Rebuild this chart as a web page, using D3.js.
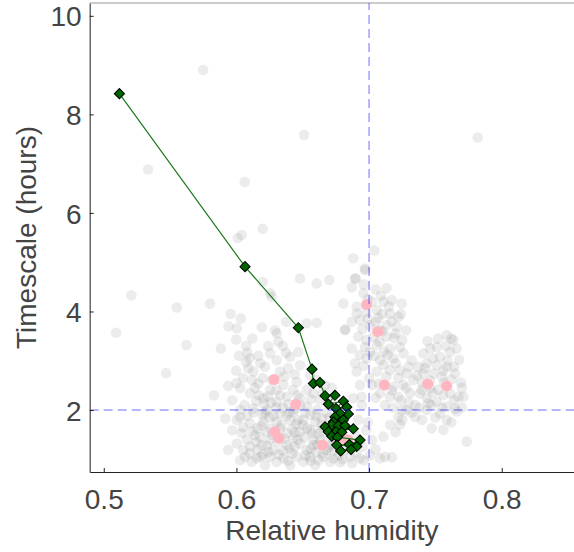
<!DOCTYPE html>
<html>
<head>
<meta charset="utf-8">
<script src="https://cdn.jsdelivr.net/npm/d3@7"></script>
<style>
  body { margin: 0; background: #fff; }
  text { font-family: "Liberation Sans", Arial, Helvetica, sans-serif; fill: #444; }
</style>
</head>
<body>
<div id="chart"></div>
<script>
/* CONSTANTS AND GLOBALS */
const width = 574,
  height = 552,
  margin = { top: 3, bottom: 80, left: 89.7, right: 0 };

// background cloud (relative humidity, timescale in hours)
const cloudPoints = [
  [0.5749, 8.90], [0.6510, 7.58], [0.7819, 7.53], [0.5334, 6.88], [0.6063, 6.63],
  [0.6198, 5.68], [0.6040, 5.55], [0.6010, 5.49], [0.7040, 5.24], [0.6881, 5.08],
  [0.6970, 4.87], [0.6198, 4.60], [0.6254, 4.37], [0.6266, 4.30], [0.6480, 4.67],
  [0.6605, 4.57], [0.6701, 4.64], [0.6899, 4.67], [0.5208, 4.33], [0.5550, 4.08],
  [0.5801, 4.16], [0.5093, 3.57], [0.6291, 3.62], [0.6374, 3.79], [0.5470, 2.75],
  [0.5624, 3.32],
  // left / lower cluster
  [0.5957, 3.95], [0.6033, 3.86], [0.5940, 3.70], [0.6003, 3.66], [0.5998, 3.43],
  [0.5883, 3.25], [0.6083, 3.16], [0.6073, 3.30], [0.6191, 3.68], [0.6304, 3.56],
  [0.6316, 3.39], [0.6254, 3.15], [0.6374, 3.16], [0.6467, 3.18], [0.6606, 3.77],
  [0.6530, 3.76], [0.6405, 3.08], [0.6304, 3.01], [0.6128, 2.78], [0.6216, 2.88],
  [0.6329, 2.78], [0.6391, 2.85], [0.6166, 2.54], [0.6254, 2.41], [0.6354, 2.51],
  [0.6455, 2.57], [0.6530, 2.41], [0.6103, 2.34], [0.6203, 2.24], [0.6304, 2.17],
  [0.6379, 2.27], [0.6480, 2.24], [0.6580, 2.34], [0.6028, 2.00], [0.6128, 2.03],
  [0.6229, 2.00], [0.6329, 1.93], [0.6429, 1.97], [0.6530, 2.07], [0.6606, 2.00],
  [0.6630, 2.20], [0.6003, 1.80], [0.6103, 1.73], [0.6203, 1.76], [0.6304, 1.76],
  [0.6405, 1.80], [0.6505, 1.80], [0.6593, 1.76], [0.6040, 1.53], [0.6140, 1.49],
  [0.6229, 1.56], [0.6379, 1.53], [0.6480, 1.56], [0.6568, 1.53], [0.6003, 1.32],
  [0.6103, 1.26], [0.6191, 1.29], [0.6278, 1.19], [0.6379, 1.29], [0.6480, 1.32],
  [0.6580, 1.29], [0.6065, 1.05], [0.6153, 1.02], [0.6254, 1.05], [0.6354, 1.02],
  [0.6455, 1.05], [0.6555, 1.05], [0.6655, 1.05], [0.6731, 1.02], [0.6857, 1.05],
  [0.6932, 1.02], [0.6115, 0.95], [0.6304, 0.95], [0.6505, 0.95], [0.6706, 0.95],
  [0.6028, 1.86], [0.6051, 1.19], [0.6073, 2.97], [0.6164, 3.10], [0.6119, 2.61],
  [0.6028, 2.45], [0.6211, 2.12], [0.6081, 1.88], [0.6157, 1.63], [0.6254, 1.39],
  [0.6329, 1.63], [0.6427, 1.43], [0.6532, 1.63], [0.6630, 1.39], [0.6683, 1.19],
  [0.6782, 0.94], [0.6216, 1.95], [0.6390, 2.12], [0.6465, 1.80], [0.6558, 1.91],
  [0.6645, 1.83], [0.6269, 2.61], [0.6427, 2.41], [0.5968, 1.59], [0.5938, 1.19],
  [0.6028, 0.98], [0.6216, 0.88], [0.6405, 0.88], [0.6593, 0.88], [0.6872, 0.92],
  [0.7007, 1.08], [0.7083, 1.02], [0.7173, 1.04], [0.6818, 1.19], [0.6743, 1.39],
  [0.6818, 1.70], [0.6894, 1.49], [0.6782, 1.90], [0.6706, 2.20], [0.6668, 2.51],
  [0.6555, 2.71], [0.6480, 2.91], [0.5968, 2.20], [0.5915, 1.83], [0.5998, 2.80],
  [0.5938, 2.49], [0.5831, 2.30], [0.6917, 1.80], [0.6947, 2.10], [0.6978, 1.59],
  [0.7022, 1.39],
  [0.6060, 2.10], [0.6150, 2.18], [0.6240, 2.28], [0.6350, 2.05], [0.6440, 2.02],
  [0.6520, 1.95], [0.6600, 1.88], [0.6680, 1.95], [0.6050, 1.65], [0.6120, 1.57],
  [0.6190, 1.68], [0.6270, 1.50], [0.6340, 1.70], [0.6420, 1.62], [0.6500, 1.70],
  [0.6560, 1.60], [0.6620, 1.52], [0.6690, 1.45], [0.6080, 1.40], [0.6150, 1.35],
  [0.6230, 1.28], [0.6310, 1.36], [0.6400, 1.22], [0.6460, 1.40], [0.6530, 1.18],
  [0.6600, 1.15], [0.6700, 1.25], [0.6770, 1.08], [0.6100, 1.12], [0.6200, 1.10],
  [0.6320, 1.10], [0.6420, 1.12], [0.6520, 1.08], [0.6620, 0.98], [0.6800, 1.00],
  [0.6900, 1.12], [0.6960, 0.98], [0.6140, 2.45], [0.6200, 2.65], [0.6300, 2.40],
  [0.6360, 2.68], [0.6440, 2.72], [0.6180, 2.95], [0.6100, 3.05], [0.6240, 3.30],
  [0.6120, 3.45], [0.6350, 3.30], [0.6050, 2.65], [0.6000, 2.55], [0.6020, 3.10],
  [0.6090, 2.85], [0.6170, 2.30], [0.6250, 1.85], [0.6300, 2.05], [0.6380, 1.88],
  [0.6450, 1.72], [0.6560, 2.22], [0.6640, 1.70], [0.6700, 1.85], [0.6870, 1.30],
  [0.6950, 1.25], [0.6990, 1.75], [0.7050, 1.20], [0.7120, 1.05], [0.6650, 2.35],
  [0.6720, 2.45], [0.6600, 2.62],
  [0.6180, 1.45], [0.6260, 1.62], [0.6360, 1.42], [0.6440, 1.55], [0.6510, 1.45],
  [0.6580, 1.40], [0.6640, 1.58], [0.6160, 1.20], [0.6240, 1.15], [0.6350, 1.18],
  [0.6440, 1.25], [0.6560, 1.22], [0.6650, 1.12], [0.6720, 1.15], [0.6280, 1.88],
  [0.6400, 1.95], [0.6480, 2.10], [0.6200, 1.90], [0.6130, 1.95], [0.6330, 2.30],
  [0.6260, 2.15], [0.6460, 2.30], [0.6720, 1.30], [0.6610, 1.30], [0.6180, 1.05],
  [0.6390, 0.97], [0.6560, 0.97], [0.6740, 1.60], [0.6750, 1.85],
  // upper middle cluster
  [0.6894, 4.67], [0.6969, 4.84], [0.7132, 4.47], [0.6806, 4.16], [0.6957, 4.37],
  [0.6907, 4.10], [0.7108, 4.20], [0.7171, 4.23], [0.7246, 4.16], [0.7058, 4.03],
  [0.7158, 3.96], [0.7221, 3.89], [0.6869, 3.79], [0.6819, 3.62], [0.6932, 3.83],
  [0.7007, 3.72], [0.7132, 3.72], [0.7208, 3.69], [0.6919, 3.49], [0.7032, 3.49],
  [0.7132, 3.49], [0.6869, 3.25], [0.6970, 3.28], [0.7058, 3.32], [0.7158, 3.25],
  [0.7233, 3.28], [0.6894, 2.95], [0.6907, 2.78], [0.6983, 3.05], [0.7083, 3.01],
  [0.7183, 3.05], [0.7058, 2.78], [0.7158, 2.81], [0.7233, 2.81], [0.7284, 2.74],
  [0.7321, 3.01], [0.7371, 2.88], [0.7074, 2.54], [0.7183, 2.47], [0.7258, 2.51],
  [0.7334, 2.61], [0.7221, 2.27], [0.7309, 2.34], [0.7397, 2.41], [0.7083, 2.34],
  [0.7158, 2.27], [0.7347, 2.10], [0.7447, 2.14], [0.7246, 2.00], [0.7221, 1.86],
  [0.7158, 1.70], [0.7233, 1.70], [0.7108, 1.46], [0.6881, 2.24], [0.6944, 2.27],
  [0.7022, 4.20], [0.7068, 3.87], [0.6978, 3.99], [0.7083, 3.62], [0.7188, 3.46],
  [0.7007, 3.18], [0.7113, 3.18], [0.6932, 2.51], [0.7022, 2.51], [0.7120, 2.10],
  [0.6871, 4.49], [0.7279, 3.62], [0.6907, 3.96], [0.6820, 3.64],
  [0.6960, 4.55], [0.7050, 4.45], [0.7090, 4.32], [0.6990, 4.25], [0.7150, 4.10],
  [0.7100, 3.95], [0.6990, 3.85], [0.7050, 3.78], [0.7170, 3.80], [0.7240, 3.95],
  [0.6950, 3.65], [0.7100, 3.60], [0.7200, 3.55], [0.6980, 3.42], [0.7080, 3.38],
  [0.7250, 3.42], [0.6930, 3.12], [0.7040, 3.10], [0.7140, 3.12], [0.7260, 3.15],
  [0.6960, 2.90], [0.7110, 2.92], [0.7200, 2.95], [0.7300, 2.88], [0.7000, 2.65],
  [0.7130, 2.68], [0.7220, 2.65], [0.7360, 2.70], [0.7170, 2.40], [0.7280, 2.45],
  [0.7050, 2.25], [0.7240, 2.20], [0.7300, 2.15], [0.7180, 2.05], [0.7380, 2.05],
  [0.7250, 1.80], [0.7320, 1.95], [0.7200, 1.55],
  // right cluster
  [0.7409, 3.15], [0.7460, 3.25], [0.7510, 3.28], [0.7586, 3.52], [0.7636, 3.42],
  [0.7535, 3.08], [0.7610, 3.18], [0.7435, 2.95], [0.7510, 2.91], [0.7586, 2.88],
  [0.7648, 2.74], [0.7485, 2.74], [0.7548, 2.68], [0.7409, 2.74], [0.7384, 2.34],
  [0.7460, 2.44], [0.7522, 2.41], [0.7610, 2.34], [0.7673, 2.27], [0.7711, 2.27],
  [0.7435, 2.24], [0.7510, 2.17], [0.7586, 2.07], [0.7648, 2.03], [0.7435, 2.00],
  [0.7535, 1.93], [0.7586, 1.80], [0.7661, 1.97], [0.7472, 1.63], [0.7736, 1.36],
  [0.7284, 2.00], [0.7347, 1.86], [0.7693, 2.56], [0.7565, 2.56], [0.7620, 3.45],
  [0.7440, 3.40], [0.7520, 3.45], [0.7580, 3.30], [0.7660, 3.25], [0.7480, 3.05],
  [0.7590, 3.00], [0.7680, 3.02], [0.7420, 2.85], [0.7560, 2.80], [0.7640, 2.88],
  [0.7460, 2.60], [0.7620, 2.62], [0.7700, 2.45], [0.7480, 2.35], [0.7560, 2.30],
  [0.7640, 2.20], [0.7470, 2.10], [0.7550, 2.05], [0.7700, 2.05], [0.7500, 1.85],
  [0.7620, 1.75], [0.7400, 1.80], [0.7560, 1.60], [0.7400, 2.55]
];

// highlighted samples
const pinkPoints = [
  [0.6982, 4.14], [0.7065, 3.59], [0.7115, 2.51], [0.7442, 2.53], [0.7585, 2.49],
  [0.6284, 2.62], [0.6447, 2.12], [0.6291, 1.56], [0.6321, 1.43], [0.6648, 1.29],
  [0.6806, 1.43], [0.6840, 1.39]
];

// tracked sequence (joined by a line)
const trackPoints = [
  [0.5118, 8.42], [0.6065, 4.91], [0.6467, 3.67], [0.6570, 2.83], [0.6580, 2.54],
  [0.6630, 2.56], [0.6668, 2.29], [0.6743, 2.30], [0.6693, 2.12], [0.6806, 2.18],
  [0.6751, 2.03], [0.6832, 2.06], [0.6844, 1.92], [0.6781, 1.93], [0.6743, 1.86],
  [0.6806, 1.80], [0.6731, 1.76], [0.6719, 1.70], [0.6668, 1.66], [0.6768, 1.68],
  [0.6819, 1.68], [0.6881, 1.62], [0.6693, 1.56], [0.6751, 1.56], [0.6794, 1.55],
  [0.6719, 1.47], [0.6761, 1.45], [0.6932, 1.39], [0.6851, 1.30], [0.6756, 1.29],
  [0.6907, 1.26], [0.6864, 1.20], [0.6786, 1.17]
];

const xTicks = [0.5, 0.6, 0.7, 0.8];
const yTicks = [2, 4, 6, 8, 10];
const refX = 0.7, refY = 2;

const svg = d3.select("#chart")
  .append("svg")
    .attr("width", width)
    .attr("height", height);

const xScale = d3.scaleLinear()
  .domain([0.4894, 0.8545])
  .range([margin.left, width - margin.right]);

const yScale = d3.scaleLinear()
  .domain([0.743, 10.26])
  .range([height - margin.bottom, margin.top]);

// frame: top line
svg.append("line")
  .attr("x1", margin.left).attr("x2", width)
  .attr("y1", margin.top).attr("y2", margin.top)
  .attr("stroke", "#999")
  .attr("stroke-width", 1.2);

svg.append("g")
  .attr("class", "cloud")
  .selectAll("circle")
  .data(cloudPoints)
  .join("circle")
    .attr("cx", d => xScale(d[0]))
    .attr("cy", d => yScale(d[1]))
    .attr("r", 5.3)
    .attr("fill", "#808080")
    .attr("fill-opacity", 0.15);

svg.append("g")
  .attr("class", "pink")
  .selectAll("circle")
  .data(pinkPoints)
  .join("circle")
    .attr("cx", d => xScale(d[0]))
    .attr("cy", d => yScale(d[1]))
    .attr("r", 5.5)
    .attr("fill", "#ffb6c1");

const line = d3.line()
  .x(d => xScale(d[0]))
  .y(d => yScale(d[1]));

svg.append("path")
  .datum(trackPoints)
  .attr("d", line)
  .attr("fill", "none")
  .attr("stroke", "#1a7a1a")
  .attr("stroke-width", 1.2);

const diamond = d3.symbol(d3.symbolSquare, 52);

svg.append("g")
  .attr("class", "track")
  .selectAll("path")
  .data(trackPoints)
  .join("path")
    .attr("d", diamond)
    .attr("transform", d => `translate(${xScale(d[0])},${yScale(d[1])}) rotate(45)`)
    .attr("fill", "#006400")
    .attr("stroke", "#000")
    .attr("stroke-width", 1);

// reference lines
svg.append("line")
  .attr("x1", xScale(refX)).attr("x2", xScale(refX))
  .attr("y1", height - margin.bottom).attr("y2", margin.top)
  .attr("stroke", "blue")
  .attr("stroke-opacity", 0.38)
  .attr("stroke-width", 1.5)
  .attr("stroke-dasharray", "9,5");

svg.append("line")
  .attr("x1", margin.left).attr("x2", width)
  .attr("y1", yScale(refY)).attr("y2", yScale(refY))
  .attr("stroke", "blue")
  .attr("stroke-opacity", 0.38)
  .attr("stroke-width", 1.5)
  .attr("stroke-dasharray", "9,5");

const xAxis = d3.axisBottom(xScale)
  .tickValues(xTicks)
  .tickFormat(d3.format(".1f"))
  .tickSizeInner(-4)
  .tickSizeOuter(0)
  .tickPadding(10);

const yAxis = d3.axisLeft(yScale)
  .tickValues(yTicks)
  .tickSizeInner(-4)
  .tickSizeOuter(0)
  .tickPadding(8);

const gx = svg.append("g")
  .attr("class", "x-axis")
  .attr("transform", `translate(0,${height - margin.bottom})`)
  .call(xAxis);

gx.select(".domain").attr("stroke", "#222").attr("stroke-width", 1.2);
gx.selectAll(".tick line").attr("stroke", "#222");
gx.selectAll(".tick text")
  .attr("font-size", 28)
  .attr("fill", "#444")
  .attr("dy", "0.95em");

const gy = svg.append("g")
  .attr("class", "y-axis")
  .attr("transform", `translate(${margin.left},0)`)
  .call(yAxis);

gy.select(".domain").attr("stroke", "#444").attr("stroke-width", 1.2);
gy.selectAll(".tick line").attr("stroke", "#222");
gy.selectAll(".tick text")
  .attr("font-size", 28)
  .attr("fill", "#444")
  .attr("dy", "0.36em");

svg.append("text")
  .attr("class", "axis-label")
  .attr("x", (margin.left + width) / 2)
  .attr("y", 540)
  .attr("text-anchor", "middle")
  .attr("font-size", 28)
  .text("Relative humidity");

svg.append("text")
  .attr("class", "axis-label")
  .attr("transform", `translate(36,${(margin.top + height - margin.bottom) / 2}) rotate(-90)`)
  .attr("text-anchor", "middle")
  .attr("font-size", 28)
  .text("Timescale (hours)");
</script>
</body>
</html>
